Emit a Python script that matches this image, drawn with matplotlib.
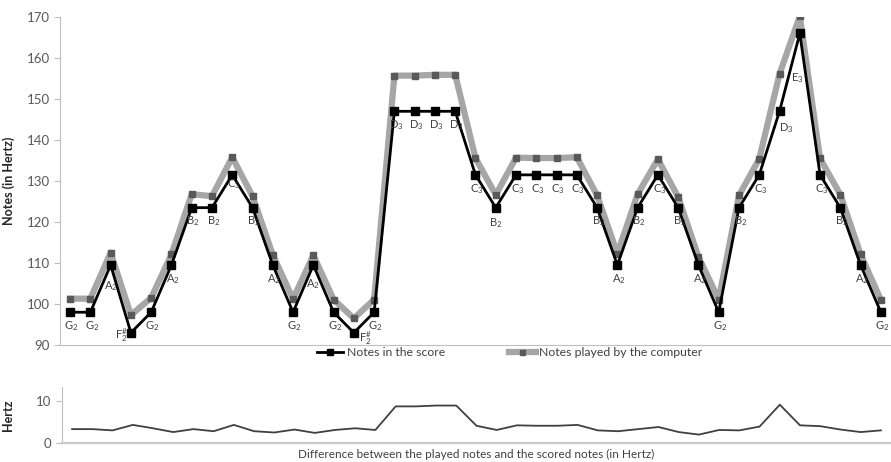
import matplotlib
matplotlib.use("Agg")
import matplotlib.pyplot as plt
import numpy as np

plt.rcParams["font.family"] = ["Lato", "DejaVu Sans"]
plt.rcParams["mathtext.default"] = "regular"

# note names of the melody, and the score frequency of each name
notes = ["G2", "G2", "A2", "F#2", "G2", "A2", "B2", "B2", "C3", "B2", "A2", "G2", "A2",
         "G2", "F#2", "G2", "D3", "D3", "D3", "D3", "C3", "B2", "C3", "C3", "C3", "C3",
         "B2", "A2", "B2", "C3", "B2", "A2", "G2", "B2", "C3", "D3", "E3", "C3", "B2",
         "A2", "G2"]
note_hz = {"F#2": 93.0, "G2": 98.0, "A2": 109.5, "B2": 123.5, "C3": 131.5,
           "D3": 147.0, "E3": 166.0}
score = [note_hz[n] for n in notes]

played = [101.3, 101.3, 112.5, 97.3, 101.5, 112.1, 126.8, 126.3, 135.8, 126.3, 112.0,
          101.2, 111.9, 101.1, 96.5, 101.1, 155.7, 155.7, 155.9, 155.9, 135.6, 126.6,
          135.7, 135.6, 135.6, 135.8, 126.5, 112.3, 126.8, 135.3, 126.1, 111.5, 101.1,
          126.5, 135.4, 156.1, 170.2, 135.5, 126.7, 112.1, 101.0]

diff = [3.3, 3.3, 3.0, 4.3, 3.5, 2.6, 3.3, 2.8, 4.3, 2.8, 2.5, 3.2, 2.4, 3.1, 3.5, 3.1,
        8.7, 8.7, 8.9, 8.9, 4.1, 3.1, 4.2, 4.1, 4.1, 4.3, 3.0, 2.8, 3.3, 3.8, 2.6, 2.0,
        3.1, 3.0, 3.9, 9.1, 4.2, 4.0, 3.2, 2.6, 3.0]

x = np.arange(len(notes))


def note_label(n):
    if n.startswith("F#"):
        return r"F$^{\#}_{" + n[-1] + "}$"
    return n[0] + "$_{" + n[-1] + "}$"


fig = plt.figure(figsize=(8.91, 4.62), dpi=100)
ax = fig.add_axes([0.0673, 0.2532, 0.9327, 0.71])
ax2 = fig.add_axes([0.0696, 0.0411, 0.9304, 0.1212])

grey = "#a6a6a6"
ax.plot(x, played, color=grey, lw=4.5, marker="s", ms=4.5, mfc="#595959", mec="#595959",
        solid_joinstyle="round", label="Notes played by the computer", zorder=2)
ax.plot(x, score, color="black", lw=2.0, marker="s", ms=6, label="Notes in the score",
        zorder=3)

# label offsets in points, most sit just under the marker
special = {2: (0, -15), 12: (0, -14), 35: (5, -12), 36: (-2, -32), 14: (8, -4),
           3: (-7, -2), 8: (1, -7), 21: (0, -11)}
for i, n in enumerate(notes):
    dx, dy = special.get(i, (1, -10))
    ax.annotate(note_label(n), (x[i], score[i]), xytext=(dx, dy), textcoords="offset points",
                ha="center", va="center", fontsize=8, color="#404040", zorder=4)

ax.set_xlim(-0.5, 40.5)
ax.set_ylim(90, 170)
ax.set_yticks(np.arange(90, 171, 10))
ax.set_xticks([])
for s in ["top", "right"]:
    ax.spines[s].set_visible(False)
ax.spines["left"].set_color("#bfbfbf")
ax.spines["bottom"].set_color("#bfbfbf")
ax.tick_params(axis="y", colors="#bfbfbf", labelcolor="#595959", labelsize=9.5, length=4)
ax.set_ylabel("Notes (in Hertz)", fontsize=9, fontweight="bold", color="#262626", labelpad=8)

handles, labels = ax.get_legend_handles_labels()
fig.legend(handles[::-1], labels[::-1], loc="center", bbox_to_anchor=(0.572, 0.236),
           ncol=2, frameon=False, fontsize=8.8, columnspacing=5.2, handlelength=2.2,
           handletextpad=0.3, labelcolor="#404040", markerscale=0.8)

ax2.plot(x, diff, color="#404040", lw=1.3)
ax2.set_xlim(-0.5, 40.5)
ax2.set_ylim(0, 13.3)
ax2.set_yticks([0, 10])
ax2.set_xticks([])
for s in ["top", "right"]:
    ax2.spines[s].set_visible(False)
ax2.spines["left"].set_color("#bfbfbf")
ax2.spines["bottom"].set_color("#c8c8c8")
ax2.spines["bottom"].set_linewidth(1.6)
ax2.tick_params(axis="y", colors="#bfbfbf", labelcolor="#595959", labelsize=9.5, length=4)
ax2.set_ylabel("Hertz", fontsize=9, fontweight="bold", color="#262626", labelpad=16)
ax2.set_xlabel("Difference between the played notes and the scored notes (in Hertz)",
               fontsize=8.5, color="#404040", labelpad=4)

fig.savefig("out.png", dpi=100)
